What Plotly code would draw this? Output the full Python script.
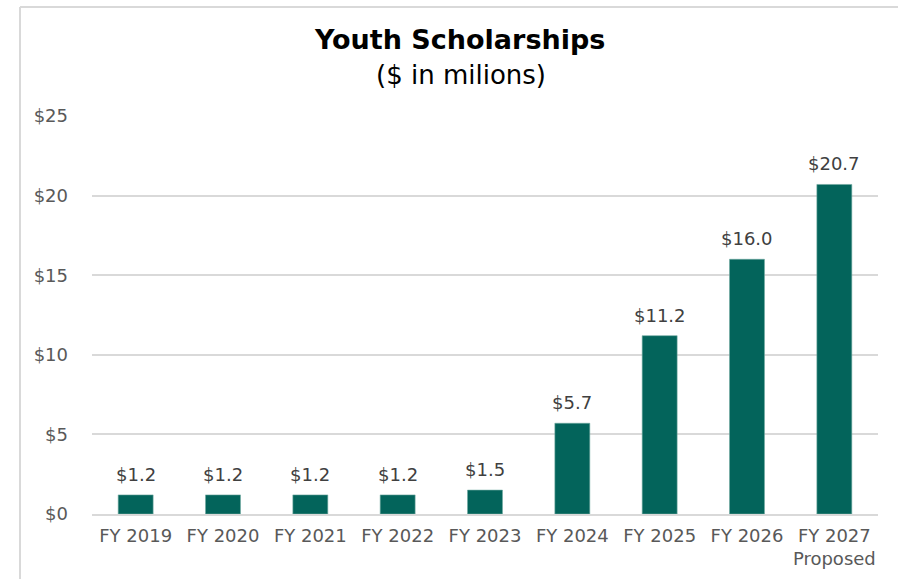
import plotly.graph_objects as go

categories = ["FY 2019", "FY 2020", "FY 2021", "FY 2022", "FY 2023",
              "FY 2024", "FY 2025", "FY 2026", "FY 2027<br>Proposed"]
values = [1.2, 1.2, 1.2, 1.2, 1.5, 5.7, 11.2, 16.0, 20.7]
y_ticks = [0, 5, 10, 15, 20, 25]
y_tick_labels = ["$0", "$5", "$10", "$15", "$20", "$25"]

FONT = "'DejaVu Sans', Verdana, sans-serif"

fig = go.Figure(go.Bar(
    x=categories, y=values,
    marker=dict(color="#03645b", line=dict(color="#6fa8a0", width=0.6)),
    cliponaxis=False, width=0.4, hoverinfo="x+y",
))

label_annotations = [
    dict(x=c, y=v, xref="x", yref="y", text=f"${v:.1f}", showarrow=False,
         xanchor="center", yanchor="bottom", yshift=8,
         font=dict(family=FONT, size=18, color="#404040"))
    for c, v in zip(categories, values)
]

fig.update_layout(
    width=898, height=579,
    margin=dict(l=92, r=20, t=116, b=65, autoexpand=False),
    paper_bgcolor="white", plot_bgcolor="white",
    showlegend=False,
    annotations=label_annotations + [
        dict(text="<b>Youth Scholarships</b>", xref="paper", yref="paper",
             x=(459 - 92) / 786, y=(514 - 39) / 398, xanchor="center", yanchor="middle",
             showarrow=False, font=dict(family=FONT, size=27, color="black")),
        dict(text="($ in milions)", xref="paper", yref="paper",
             x=(461 - 92) / 786, y=(514 - 75) / 398, xanchor="center", yanchor="middle",
             showarrow=False, font=dict(family=FONT, size=26, color="black")),
    ],
    shapes=[
        dict(type="line", xref="paper", yref="paper",
             x0=(20 - 92) / 786, x1=(920 - 92) / 786,
             y0=(514 - 7) / 398, y1=(514 - 7) / 398,
             line=dict(color="#d9d9d9", width=2)),
        dict(type="line", xref="paper", yref="paper",
             x0=(20 - 92) / 786, x1=(20 - 92) / 786,
             y0=(514 - 7) / 398, y1=(514 - 600) / 398,
             line=dict(color="#d9d9d9", width=2)),
    ],
)

fig.update_xaxes(
    showgrid=False, showline=True, linecolor="#d9d9d9", linewidth=2,
    tickfont=dict(family=FONT, size=18, color="#595959"),
    ticks="", fixedrange=True, automargin=False, ticklabelstandoff=4,
)
fig.update_yaxes(
    range=[0, 25], tickmode="array", tickvals=y_ticks, ticktext=y_tick_labels,
    showgrid=True, gridcolor="#d9d9d9", gridwidth=1.5,
    zeroline=False, showline=False, ticks="",
    ticklabelstandoff=23, automargin=False,
    tickfont=dict(family=FONT, size=18, color="#595959"),
)

fig.write_html(
    "out.html",
    config={"displayModeBar": False},
    post_script="document.body.style.margin='0';document.body.style.padding='0';",
)
